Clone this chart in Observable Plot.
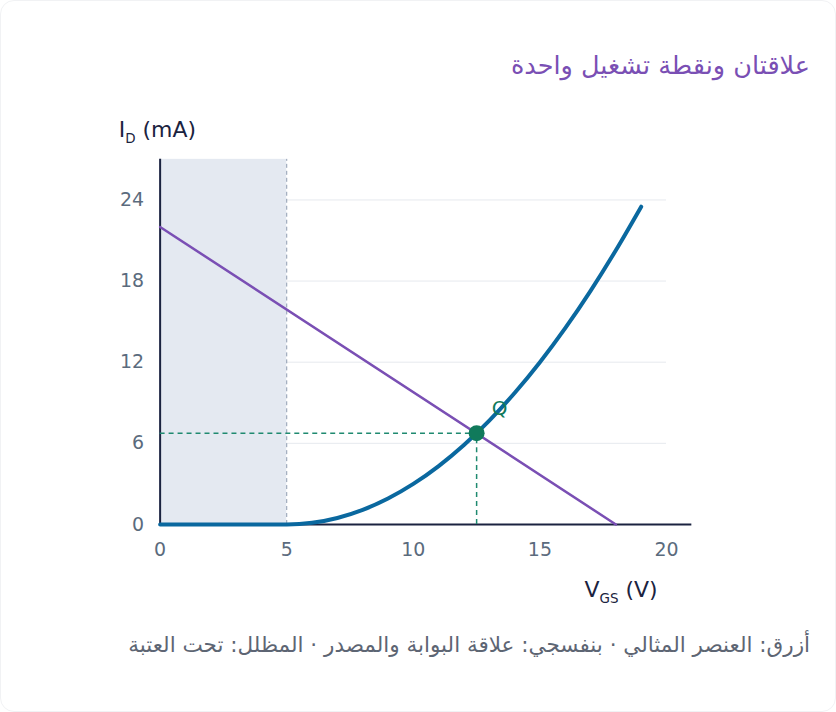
<!DOCTYPE html>
<html lang="ar">
<head>
<meta charset="utf-8">
<script src="https://cdn.jsdelivr.net/npm/d3@7"></script>
<script src="https://cdn.jsdelivr.net/npm/@observablehq/plot@0.6"></script>
<style>
  html, body { margin: 0; padding: 0; background: #ffffff; }
  body { width: 836px; height: 712px; overflow: hidden; font-family: "DejaVu Sans", sans-serif; }
  #card { position: relative; width: 834px; height: 710px; border: 1px solid #f1f2f4; border-radius: 14px; background: #fff; }
  #title { position: absolute; top: 46px; right: 25px; direction: rtl; text-align: right; color: #7a4fb4; font-size: 25.5px; line-height: 36px; white-space: nowrap; }
  #chart { position: absolute; top: 100px; left: 0; }
  #caption { position: absolute; top: 628px; right: 25px; direction: rtl; text-align: right; color: #5d6573; font-size: 21.5px; line-height: 32px; white-space: nowrap; }
</style>
</head>
<body>
<div id="card">
  <div id="title">علاقتان ونقطة تشغيل واحدة</div>
  <div id="chart"></div>
  <div id="caption">أزرق: العنصر المثالي · بنفسجي: علاقة البوابة والمصدر · المظلل: تحت العتبة</div>
</div>
<script>
// Data
const vgs = [0, 1, 2, 3, 4, 5, 6, 7, 8, 9, 10, 11, 12, 13, 14, 15, 16, 17, 18, 19];
const idDevice = [0, 0, 0, 0, 0, 0, 0.12, 0.48, 1.08, 1.92, 3.0, 4.32, 5.88, 7.68, 9.72, 12.0, 14.52, 17.28, 20.28, 23.5];
const biasVgs = [0, 18];
const biasId = [22, 0];
const qPoint = {vgs: 12.5, id: 6.75};
const thresholdVgs = 5;
const xTicks = [0, 5, 10, 15, 20];
const yTicks = [0, 6, 12, 18, 24];
const xDomain = [0, 21];
const yDomain = [0, 27];

const device = vgs.map((v, i) => ({vgs: v, id: idDevice[i]}));
const bias = biasVgs.map((v, i) => ({vgs: v, id: biasId[i]}));

const W = 836, H = 510;
const plot = Plot.plot({
  width: W,
  height: H,
  marginLeft: 159,
  marginRight: 144,
  marginTop: 58,
  marginBottom: 86,
  style: {fontFamily: "DejaVu Sans, sans-serif", fontSize: "19px", color: "#5b6b7d", background: "transparent"},
  x: {domain: xDomain, label: null},
  y: {domain: yDomain, label: null},
  marks: [
    Plot.ruleY(yTicks.filter(d => d > 0), {x1: 0, x2: 20, stroke: "#e6e9ee", strokeWidth: 1}),
    Plot.rectY([{x1: 0, x2: thresholdVgs}], {x1: "x1", x2: "x2", y1: 0, y2: yDomain[1], fill: "#e4e9f1"}),
    Plot.ruleX([thresholdVgs], {y1: 0, y2: yDomain[1], stroke: "#8d9bb0", strokeWidth: 1, strokeDasharray: "4,3"}),
    Plot.axisX({ticks: xTicks, tickSize: 0, tickPadding: 18, fill: "#5b6b7d", fontSize: 19}),
    Plot.axisY({ticks: yTicks, tickSize: 0, tickPadding: 16, fill: "#5b6b7d", fontSize: 19}),
    Plot.ruleY([0], {x1: xDomain[0], x2: xDomain[1], stroke: "#1b2340", strokeWidth: 2}),
    Plot.ruleX([0], {y1: yDomain[0], y2: yDomain[1], stroke: "#1b2340", strokeWidth: 2}),
    Plot.ruleY([qPoint], {y: "id", x1: 0, x2: "vgs", stroke: "#1f8a70", strokeWidth: 1.5, strokeDasharray: "5,4"}),
    Plot.ruleX([qPoint], {x: "vgs", y1: 0, y2: "id", stroke: "#1f8a70", strokeWidth: 1.5, strokeDasharray: "5,4"}),
    Plot.line(bias, {x: "vgs", y: "id", stroke: "#7a4fb4", strokeWidth: 2.5}),
    Plot.line(device, {x: "vgs", y: "id", stroke: "#0a689f", strokeWidth: 4, curve: "monotone-x"}),
    Plot.dot([qPoint], {x: "vgs", y: "id", r: 8, fill: "#107a5b"}),
    Plot.text([qPoint], {x: "vgs", y: "id", text: () => "Q", dx: 23, dy: -25, fill: "#107a5b", fontSize: 20})
  ]
});

const svg = d3.select(plot);
// Y axis label: I_D (mA)
const yl = svg.append("text").attr("x", 118).attr("y", 36).attr("text-anchor", "start")
  .attr("fill", "#1b2340").attr("font-size", 22).attr("font-family", "DejaVu Sans, sans-serif");
yl.append("tspan").text("I");
yl.append("tspan").text("D").attr("font-size", 13.5).attr("dy", 6);
yl.append("tspan").text(" (mA)").attr("dy", -6);
// X axis label: V_GS (V)
const xl = svg.append("text").attr("x", 585).attr("y", 497).attr("text-anchor", "start")
  .attr("fill", "#1b2340").attr("font-size", 22).attr("font-family", "DejaVu Sans, sans-serif");
xl.append("tspan").text("V");
xl.append("tspan").text("GS").attr("font-size", 13.5).attr("dy", 6);
xl.append("tspan").text(" (V)").attr("dy", -6);

document.getElementById("chart").appendChild(plot);
</script>
</body>
</html>
